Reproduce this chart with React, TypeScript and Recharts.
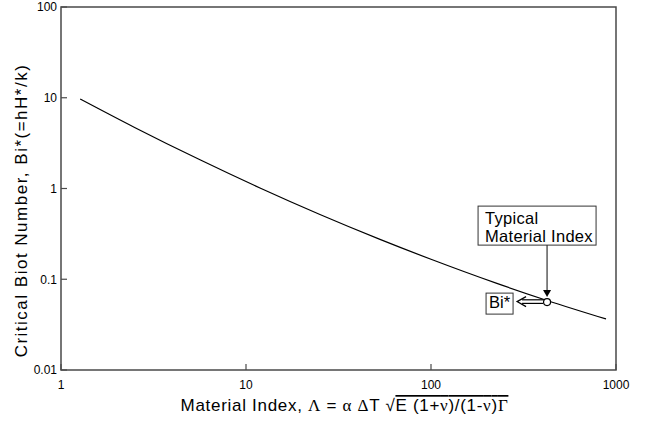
import { LineChart, Line, XAxis, YAxis, ReferenceArea, ReferenceDot } from "recharts";

// values (log-log)
const materialIndex = [1.27, 2.5, 5.64, 11.9, 25.1, 53, 100, 227, 424, 883];
const biotNumber = [9.69, 4.71, 2.07, 1.013, 0.517, 0.275, 0.166, 0.09, 0.0584, 0.0365];
const xTicks = [1, 10, 100, 1000];
const yTicks = [0.01, 0.1, 1, 10, 100];
const typicalIndex = 424;
const typicalBiot = 0.056;

const data = materialIndex.map((x, i) => ({ x, y: biotNumber[i] }));

const FONT = "'Liberation Sans', Arial, Helvetica, sans-serif";
const GREEK = "'Liberation Serif', 'DejaVu Serif', serif";
const FRAME = "#4a4a4a";

const XLabel = ({ viewBox }: any) => {
  const cx = viewBox.x + viewBox.width / 2 + 6;
  const y = viewBox.y + 41;
  return (
    <text x={cx} y={y} textAnchor="middle" fontSize={17} fontFamily={FONT} fill="#000" letterSpacing={0.7}>
      Material Index, <tspan fontFamily={GREEK}>Λ</tspan> = <tspan fontFamily={GREEK}>α</tspan>{" "}
      <tspan fontFamily={GREEK}>Δ</tspan>T √
      <tspan style={{ textDecoration: "overline" }}>
        E (1+<tspan fontFamily={GREEK}>ν</tspan>)/(1-<tspan fontFamily={GREEK}>ν</tspan>)
        <tspan fontFamily={GREEK}>Γ</tspan>
      </tspan>
    </text>
  );
};

const YLabel = ({ viewBox }: any) => {
  const x = 27;
  const y = viewBox.y + viewBox.height / 2 + 22;
  return (
    <text x={x} y={y} transform={`rotate(-90 ${x} ${y})`} textAnchor="middle" fontSize={17} fontFamily={FONT} fill="#000" letterSpacing={1.5}>
      Critical Biot Number, Bi*(=hH*/k)
    </text>
  );
};

// circle on the curve with the two callouts
const Callout = ({ cx, cy }: any) => {
  if (cx == null || cy == null) return null;
  return (
    <g fontFamily={FONT} fontSize={16.5} fill="#000">
      <rect x={cx - 69} y={cy - 96} width={118} height={39} fill="#fff" stroke="#333" strokeWidth={1} />
      <text x={cx - 62} y={cy - 78} letterSpacing={0.3}>Typical</text>
      <text x={cx - 62} y={cy - 60} letterSpacing={0.3}>Material Index</text>
      <line x1={cx} y1={cy - 57} x2={cx} y2={cy - 11} stroke="#333" strokeWidth={1.2} />
      <path d={`M ${cx - 4} ${cy - 12} L ${cx + 4} ${cy - 12} L ${cx} ${cy - 5} Z`} fill="#000" />
      <rect x={cx - 61} y={cy - 9} width={27} height={21} fill="#fff" stroke="#333" strokeWidth={1} />
      <text x={cx - 58} y={cy + 6}>Bi*</text>
      <line x1={cx - 25} y1={cy - 2.3} x2={cx - 4} y2={cy - 2.3} stroke="#000" strokeWidth={1.2} />
      <line x1={cx - 25} y1={cy + 1.3} x2={cx - 4} y2={cy + 1.3} stroke="#000" strokeWidth={1.2} />
      <path d={`M ${cx - 21} ${cy - 5.5} L ${cx - 30} ${cy - 0.5} L ${cx - 21} ${cy + 4.5}`} fill="none" stroke="#000" strokeWidth={1.2} />
      <circle cx={cx} cy={cy} r={3.5} fill="#fff" stroke="#000" strokeWidth={1.2} />
    </g>
  );
};

const tickStyle = { fontSize: 12, fontFamily: FONT, fill: "#000" };

export default function App() {
  return (
    <div style={{ position: "absolute", left: 0, top: 0, background: "#fff" }}>
      <LineChart width={647} height={424} data={data} margin={{ top: 7, right: 31, left: 0, bottom: 0 }}>
        <XAxis
          dataKey="x"
          type="number"
          scale="log"
          domain={[1, 1000]}
          ticks={xTicks}
          allowDataOverflow
          tickFormatter={(v) => String(v)}
          tick={tickStyle}
          tickSize={-6}
          tickMargin={16}
          tickLine={{ stroke: FRAME, strokeWidth: 1.2 }}
          axisLine={false}
          height={54}
          interval={0}
          label={<XLabel />}
        />
        <YAxis
          dataKey="y"
          type="number"
          scale="log"
          domain={[0.01, 100]}
          ticks={yTicks}
          allowDataOverflow
          tickFormatter={(v) => String(v)}
          tick={tickStyle}
          tickSize={-6}
          tickMargin={10}
          tickLine={{ stroke: FRAME, strokeWidth: 1.2 }}
          axisLine={false}
          width={61}
          interval={0}
          label={<YLabel />}
        />
        <ReferenceArea x1={1} x2={1000} y1={0.01} y2={100} fill="none" stroke={FRAME} strokeWidth={1.5} ifOverflow="visible" />
        <Line
          type="monotone"
          dataKey="y"
          stroke="#000"
          strokeWidth={1.2}
          dot={false}
          activeDot={false}
          isAnimationActive={false}
        />
        <ReferenceDot x={typicalIndex} y={typicalBiot} shape={<Callout />} ifOverflow="visible" />
      </LineChart>
    </div>
  );
}
